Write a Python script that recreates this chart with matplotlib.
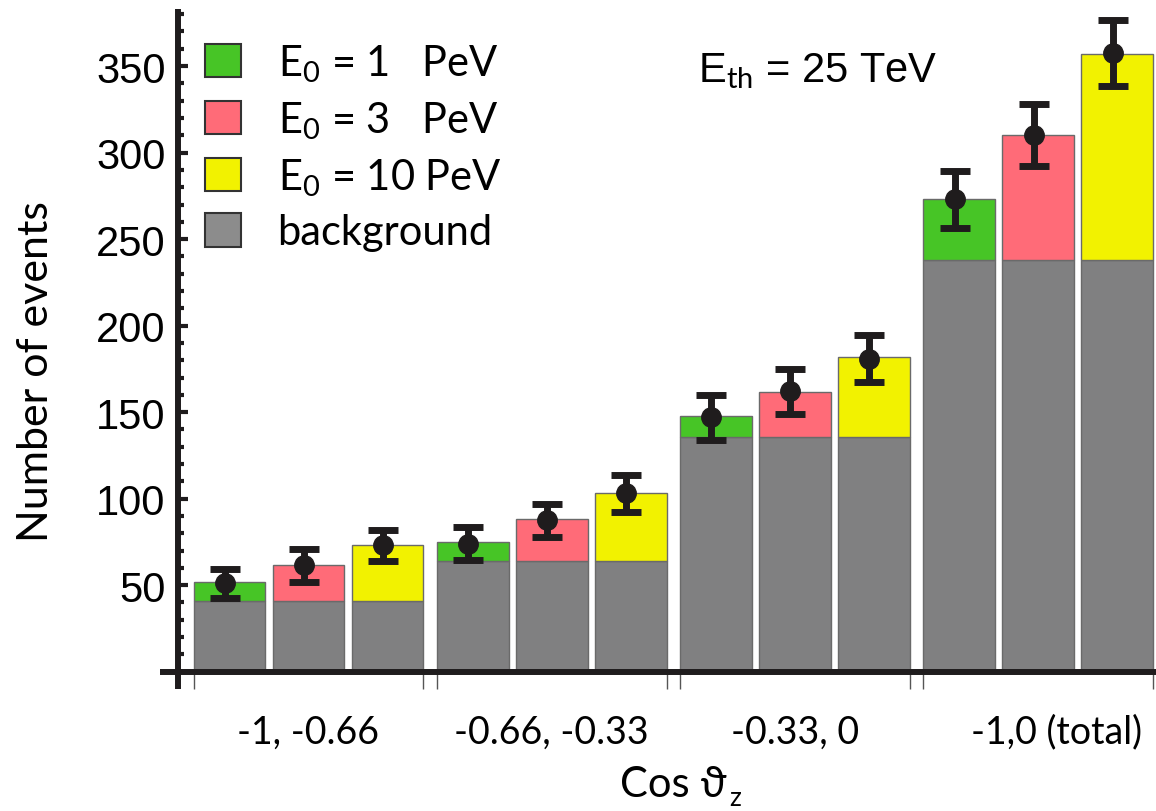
import numpy as np
import matplotlib.pyplot as plt
from matplotlib.patches import Patch

plt.rcParams['mathtext.fontset'] = 'custom'
plt.rcParams['mathtext.rm'] = 'Lato'
plt.rcParams['mathtext.it'] = 'Lato:italic'

# data
groups = ['-1, -0.66', '-0.66, -0.33', '-0.33, 0', '-1,0 (total)']
labels = ['E$_0$ = 1   PeV', 'E$_0$ = 3   PeV', 'E$_0$ = 10 PeV', 'background']
background = [41, 64, 135.5, 238]
total_1pev = [52, 75, 147.5, 273]
total_3pev = [61.5, 88, 161.5, 310]
total_10pev = [73.5, 103, 182, 357]
points_1pev = [51, 74, 147, 273]
points_3pev = [61.5, 87.5, 162, 310]
points_10pev = [73, 103, 181, 357.5]
err_1pev = [8.5, 9.5, 13, 16.5]
err_3pev = [9.5, 9.5, 13, 18]
err_10pev = [9, 10.5, 13.5, 19]

colors = ['#47c526', '#ff6b78', '#f2f200']
gray = '#808081'
ink = '#1f1c1d'

fig = plt.figure(figsize=(11.56, 8.12), dpi=100)
ax = fig.add_axes([160 / 1156, 122 / 812, 996 / 1156, 680 / 812])

step = 3.08
width = 0.91
gpos = np.arange(len(groups)) * step
totals = [total_1pev, total_3pev, total_10pev]
points = [points_1pev, points_3pev, points_10pev]
errs = [err_1pev, err_3pev, err_10pev]

for j in range(3):
    x = gpos + j
    ax.bar(x, background, width, color=gray, edgecolor='#6a6a6a', linewidth=1.0, zorder=2)
    ax.bar(x, np.array(totals[j]) - np.array(background), width, bottom=background,
           color=colors[j], edgecolor='#6a6a6a', linewidth=1.0, zorder=2)
    ax.errorbar(x - 0.06, points[j], yerr=errs[j], fmt='o', color=ink, ms=14,
                elinewidth=5, capsize=11, capthick=5, zorder=4)

ax.set_xlim(-0.88, 11.73)
ax.set_ylim(-10, 383)

for s in ['top', 'right']:
    ax.spines[s].set_visible(False)
ax.spines['left'].set_position(('data', -0.652))
ax.spines['bottom'].set_position(('data', 0))
for s in ['left', 'bottom']:
    ax.spines[s].set_linewidth(4.3)
    ax.spines[s].set_color(ink)
    ax.spines[s].set_capstyle('butt')

ax.set_yticks(np.arange(50, 351, 50))
ax.set_yticks(np.arange(0, 381, 10), minor=True)
ax.tick_params(axis='y', which='major', direction='in', length=7.5, width=3,
               color=ink, labelsize=30, pad=9)
ax.tick_params(axis='y', which='minor', direction='in', length=4.5, width=3, color=ink)
for t in ax.get_yticklabels():
    t.set_fontfamily('Liberation Sans')

ax.set_xticks(gpos + 1 + np.array([0, 0, 0, 0.23]))
ax.set_xticklabels(groups)
ax.set_xticks(np.concatenate([gpos - width / 2, gpos + 2 + width / 2]), minor=True)
ax.tick_params(axis='x', which='major', length=0, labelsize=27, pad=30)
ax.tick_params(axis='x', which='minor', direction='out', length=12, width=1.0, color='#555555')
for t in ax.get_xticklabels():
    t.set_fontfamily('Lato')

ax.set_ylabel('Number of events', fontsize=31, fontfamily='Lato')
ax.yaxis.set_label_coords(-0.1245, 0.468)
ax.yaxis.label.set_verticalalignment('center')

xl = fig.text(620 / 1156, 1 - 797 / 812, 'Cos ϑ', fontsize=30,
              family=['Lato', 'DejaVu Sans'], va='baseline', ha='left')
fig.canvas.draw()
bb = xl.get_window_extent()
fig.text((bb.x1 + 3) / 1156, (812 - 806) / 812, 'z', fontsize=19,
         family='Lato', va='baseline', ha='left')

fig.text(698 / 1156, 1 - 82 / 812, 'E$_{\\rm th}$ = 25 TeV', fontsize=30,
         fontfamily='Liberation Sans', va='baseline')

handles = [Patch(facecolor=c, edgecolor='#333333', linewidth=1.5) for c in colors + ['#8c8c8c']]
leg = ax.legend(handles, labels, loc='upper left', bbox_to_anchor=(205 / 1156, 1 - 43 / 812),
                bbox_transform=fig.transFigure, frameon=False,
                prop={'family': 'Lato', 'size': 30}, handlelength=0.86, handleheight=0.86,
                handletextpad=0.88, labelspacing=0.37, borderpad=0, borderaxespad=0)

fig.savefig('out.png', dpi=100)
